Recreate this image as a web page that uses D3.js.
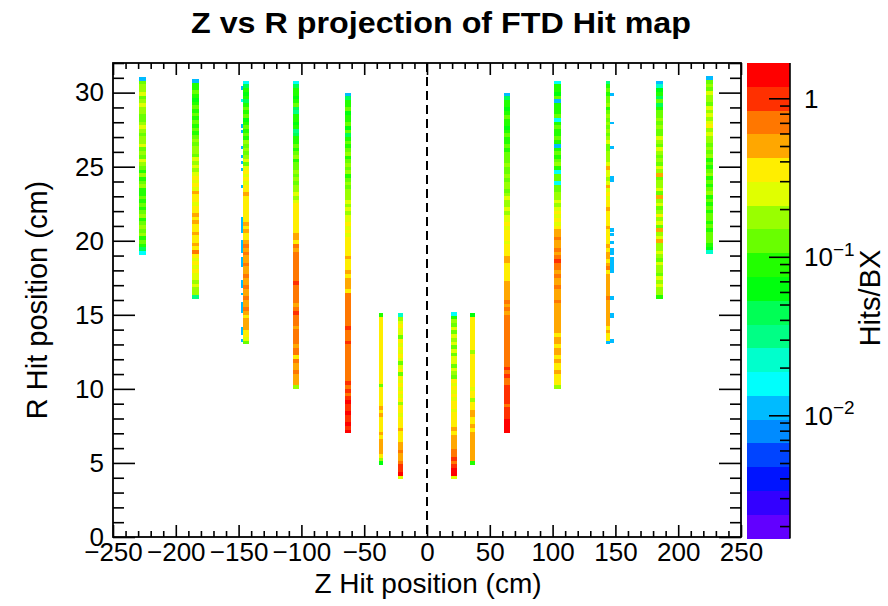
<!DOCTYPE html>
<html>
<head>
<meta charset="utf-8">
<script src="https://cdn.jsdelivr.net/npm/d3@7"></script>
<style>
  body { margin: 0; background: #fff; }
  svg { display: block; }
  text { font-family: "Liberation Sans", Arial, Helvetica, sans-serif; fill: #000; }
</style>
</head>
<body>
<svg id="chart" width="888" height="606"></svg>
<script>
// ---- FTD disk columns: z extent (cm) and radial coverage (cm) ----
const diskZLo = [-229.3, -187.3, -146.3, -106.9, -65.0, -38.0, -22.9, 18.9, 34.2, 61.5, 101.1, 142.5, 182.3, 222.1];
const diskZHi = [-223.4, -181.5, -142.0, -101.9, -60.7, -34.8, -19.3, 23.6, 38.5, 66.3, 106.4, 145.7, 188.1, 227.9];
const diskRMin = [19.05, 16.1, 13.0, 10.0, 7.0, 4.86, 3.9, 3.9, 4.86, 7.0, 10.0, 13.0, 16.1, 19.1];
const diskRMax = [31.05, 30.9, 30.8, 30.8, 30.0, 15.1, 15.1, 15.2, 15.1, 30.0, 30.8, 30.8, 30.8, 31.1];

// Hits/BX in equal radial rings, listed from the outer radius inward
const hitsZm225 = [0.012, 0.13, 0.2, 0.15, 0.22, 0.13, 0.19, 0.24, 0.16, 0.21, 0.14, 0.12, 0.18, 0.22, 0.15, 0.12, 0.2, 0.16, 0.24, 0.14, 0.19, 0.13, 0.22, 0.17, 0.12, 0.1, 0.15, 0.09, 0.12, 0.16, 0.1, 0.08, 0.13, 0.1, 0.14, 0.09, 0.11, 0.17, 0.1, 0.13, 0.2, 0.11, 0.15, 0.1, 0.12, 0.08, 0.04, 0.015];
const hitsZm185 = [0.012, 0.1, 0.08, 0.12, 0.09, 0.07, 0.1, 0.13, 0.08, 0.11, 0.09, 0.14, 0.1, 0.12, 0.08, 0.11, 0.15, 0.12, 0.16, 0.2, 0.14, 0.22, 0.18, 0.25, 0.2, 0.24, 0.3, 0.26, 0.32, 0.28, 0.45, 0.3, 0.33, 0.28, 0.36, 0.3, 0.48, 0.34, 0.5, 0.32, 0.38, 0.55, 0.36, 0.3, 0.52, 0.34, 0.6, 0.35, 0.28, 0.33, 0.25, 0.3, 0.22, 0.27, 0.2, 0.24, 0.18, 0.15, 0.03];
const hitsZm145 = [0.015, 0.05, 0.09, 0.06, 0.1, 0.04, 0.08, 0.11, 0.09, 0.12, 0.07, 0.1, 0.14, 0.09, 0.12, 0.1, 0.15, 0.11, 0.2, 0.13, 0.16, 0.22, 0.14, 0.25, 0.3, 0.26, 0.34, 0.28, 0.32, 0.36, 0.5, 0.33, 0.35, 0.3, 0.38, 0.32, 0.4, 0.34, 0.55, 0.36, 0.5, 0.4, 0.36, 0.55, 0.6, 0.52, 0.65, 0.5, 0.58, 0.62, 0.48, 0.55, 0.6, 0.52, 0.55, 0.6, 0.5, 0.58, 0.62, 0.55, 0.5, 0.6, 0.45, 0.4, 0.48, 0.52, 0.45, 0.35, 0.3, 0.25, 0.12];
const hitsZm105 = [0.015, 0.04, 0.08, 0.1, 0.06, 0.09, 0.12, 0.04, 0.03, 0.08, 0.1, 0.07, 0.09, 0.03, 0.05, 0.09, 0.1, 0.13, 0.09, 0.12, 0.16, 0.1, 0.14, 0.11, 0.15, 0.12, 0.18, 0.13, 0.2, 0.16, 0.22, 0.18, 0.25, 0.3, 0.35, 0.32, 0.38, 0.34, 0.4, 0.36, 0.33, 0.5, 0.55, 0.38, 0.6, 0.5, 0.65, 0.62, 0.7, 0.65, 0.72, 0.6, 0.68, 0.75, 0.85, 0.7, 0.65, 0.72, 0.6, 0.68, 0.55, 0.62, 0.9, 0.66, 0.7, 0.6, 0.58, 0.64, 0.7, 0.62, 0.6, 0.55, 0.65, 0.6, 0.35, 0.62, 0.58, 0.55, 0.6, 0.52, 0.5, 0.48, 0.2];
const hitsZm64 = [0.012, 0.05, 0.1, 0.08, 0.12, 0.06, 0.1, 0.09, 0.13, 0.07, 0.11, 0.04, 0.09, 0.12, 0.08, 0.12, 0.15, 0.1, 0.14, 0.18, 0.12, 0.16, 0.1, 0.13, 0.17, 0.12, 0.2, 0.15, 0.18, 0.22, 0.16, 0.24, 0.2, 0.28, 0.22, 0.3, 0.26, 0.33, 0.28, 0.35, 0.32, 0.38, 0.34, 0.36, 0.45, 0.33, 0.4, 0.38, 0.5, 0.36, 0.45, 0.5, 0.55, 0.4, 0.6, 0.65, 0.7, 0.62, 0.68, 0.72, 0.65, 0.75, 0.7, 0.88, 0.68, 0.72, 0.65, 0.9, 0.7, 0.74, 0.68, 0.72, 0.78, 0.7, 0.75, 0.8, 0.72, 0.78, 0.95, 0.78, 1.0, 0.8, 1.05, 1.2, 0.95, 1.1, 1.3, 1.0, 1.15, 1.25, 1.1, 1.2];
const hitsZm37 = [0.08, 0.3, 0.35, 0.32, 0.36, 0.3, 0.34, 0.38, 0.33, 0.3, 0.36, 0.34, 0.32, 0.37, 0.33, 0.35, 0.3, 0.34, 0.36, 0.12, 0.32, 0.35, 0.33, 0.36, 0.34, 0.5, 0.36, 0.55, 0.34, 0.38, 0.35, 0.4, 0.5, 0.38, 0.55, 0.45, 0.5, 0.42, 0.35, 0.2, 0.07];
const hitsZm22 = [0.025, 0.2, 0.26, 0.3, 0.24, 0.28, 0.12, 0.3, 0.25, 0.32, 0.27, 0.3, 0.24, 0.13, 0.28, 0.3, 0.14, 0.3, 0.27, 0.33, 0.25, 0.3, 0.28, 0.32, 0.15, 0.3, 0.33, 0.28, 0.35, 0.3, 0.34, 0.55, 0.36, 0.4, 0.38, 0.5, 0.42, 0.6, 0.55, 0.48, 0.75, 1.1, 0.9, 1.2, 0.25];
const hitsZp22 = [0.016, 0.1, 0.2, 0.14, 0.25, 0.12, 0.22, 0.15, 0.24, 0.11, 0.26, 0.13, 0.28, 0.22, 0.12, 0.26, 0.2, 0.14, 0.3, 0.24, 0.3, 0.26, 0.32, 0.28, 0.34, 0.3, 0.25, 0.33, 0.3, 0.35, 0.32, 0.45, 0.38, 0.5, 0.42, 0.55, 0.45, 0.6, 0.7, 0.9, 0.75, 1.0, 1.25, 1.2, 0.25];
const hitsZp37 = [0.07, 0.32, 0.35, 0.3, 0.34, 0.36, 0.31, 0.33, 0.37, 0.3, 0.2, 0.34, 0.32, 0.36, 0.33, 0.35, 0.3, 0.34, 0.36, 0.32, 0.22, 0.35, 0.33, 0.2, 0.36, 0.34, 0.5, 0.45, 0.38, 0.36, 0.55, 0.4, 0.5, 0.52, 0.48, 0.55, 0.5, 0.45, 0.52, 0.46, 0.08];
const hitsZp64 = [0.012, 0.04, 0.08, 0.1, 0.07, 0.09, 0.12, 0.08, 0.1, 0.06, 0.09, 0.11, 0.08, 0.1, 0.13, 0.09, 0.11, 0.14, 0.12, 0.16, 0.11, 0.14, 0.18, 0.12, 0.15, 0.2, 0.13, 0.17, 0.22, 0.16, 0.2, 0.25, 0.18, 0.28, 0.22, 0.3, 0.24, 0.32, 0.3, 0.34, 0.28, 0.36, 0.32, 0.35, 0.5, 0.55, 0.38, 0.34, 0.36, 0.4, 0.38, 0.42, 0.48, 0.45, 0.5, 0.55, 0.6, 0.52, 0.65, 0.58, 0.62, 0.7, 0.6, 0.66, 0.72, 0.6, 0.68, 0.64, 0.7, 0.62, 0.75, 0.66, 0.7, 0.72, 0.9, 0.75, 0.95, 0.7, 0.74, 0.9, 1.0, 0.85, 0.95, 1.05, 0.8, 0.9, 0.85, 1.0, 1.2, 1.3, 1.25, 1.4];
const hitsZp105 = [0.014, 0.08, 0.1, 0.07, 0.11, 0.013, 0.09, 0.1, 0.08, 0.12, 0.015, 0.09, 0.11, 0.08, 0.1, 0.12, 0.09, 0.013, 0.1, 0.13, 0.09, 0.12, 0.15, 0.1, 0.015, 0.13, 0.11, 0.014, 0.14, 0.12, 0.16, 0.2, 0.25, 0.18, 0.28, 0.3, 0.24, 0.33, 0.28, 0.35, 0.5, 0.55, 0.6, 0.52, 0.58, 0.62, 0.55, 0.7, 0.9, 0.65, 0.6, 0.55, 0.62, 0.58, 0.55, 0.6, 0.5, 0.58, 0.52, 0.62, 0.55, 0.48, 0.5, 0.56, 0.45, 0.52, 0.48, 0.55, 0.4, 0.5, 0.45, 0.38, 0.48, 0.42, 0.36, 0.45, 0.4, 0.35, 0.42, 0.38, 0.34, 0.36, 0.2];
const hitsZp145 = [0.03, 0.1, 0.12, 0.09, 0.14, 0.11, 0.16, 0.1, 0.13, 0.2, 0.12, 0.15, 0.11, 0.18, 0.13, 0.16, 0.22, 0.14, 0.12, 0.17, 0.2, 0.16, 0.24, 0.5, 0.22, 0.26, 0.2, 0.28, 0.55, 0.25, 0.3, 0.27, 0.32, 0.35, 0.55, 0.3, 0.34, 0.38, 0.32, 0.5, 0.36, 0.33, 0.4, 0.35, 0.55, 0.38, 0.42, 0.5, 0.36, 0.45, 0.6, 0.4, 0.48, 0.55, 0.5, 0.45, 0.55, 0.5, 0.6, 0.48, 0.52, 0.45, 0.5, 0.42, 0.55, 0.48, 0.4, 0.45, 0.38, 0.3, 0.012];
const hitsZp185 = [0.012, 0.02, 0.06, 0.1, 0.05, 0.12, 0.04, 0.09, 0.11, 0.13, 0.18, 0.11, 0.2, 0.14, 0.12, 0.22, 0.16, 0.13, 0.24, 0.15, 0.12, 0.2, 0.14, 0.25, 0.17, 0.5, 0.13, 0.2, 0.15, 0.22, 0.12, 0.55, 0.18, 0.25, 0.14, 0.2, 0.3, 0.16, 0.22, 0.14, 0.5, 0.18, 0.26, 0.55, 0.15, 0.21, 0.28, 0.17, 0.13, 0.24, 0.16, 0.2, 0.14, 0.22, 0.18, 0.25, 0.2, 0.16, 0.1];
const hitsZp225 = [0.012, 0.12, 0.18, 0.14, 0.22, 0.16, 0.2, 0.13, 0.24, 0.18, 0.26, 0.15, 0.22, 0.3, 0.19, 0.24, 0.16, 0.21, 0.14, 0.2, 0.13, 0.17, 0.1, 0.14, 0.09, 0.12, 0.16, 0.1, 0.13, 0.08, 0.11, 0.15, 0.09, 0.12, 0.1, 0.14, 0.08, 0.11, 0.13, 0.09, 0.12, 0.1, 0.14, 0.11, 0.13, 0.09, 0.06, 0.02];
const diskHits = [hitsZm225, hitsZm185, hitsZm145, hitsZm105, hitsZm64, hitsZm37, hitsZm22,
                  hitsZp22, hitsZp37, hitsZp64, hitsZp105, hitsZp145, hitsZp185, hitsZp225];

// Sparse hits in the z bins next to the ±145 cm disks: [zLo, zHi, rLo, rHi, hits/BX]
const edgeHits = [
  [-148.3, -146.3, 30.2, 30.45, 0.012], [-148.3, -146.3, 29.4, 29.6, 0.014],
  [-148.3, -146.3, 27.6, 27.9, 0.013], [-148.3, -146.3, 27.3, 27.5, 0.012],
  [-148.3, -146.3, 26.2, 26.4, 0.012], [-148.3, -146.3, 25.6, 25.8, 0.013],
  [-148.3, -146.3, 25.2, 25.4, 0.012], [-148.3, -146.3, 24.7, 24.9, 0.011],
  [-148.3, -146.3, 23.55, 23.75, 0.012], [-148.3, -146.3, 20.5, 21.6, 0.011],
  [-148.3, -146.3, 19.15, 20.05, 0.012], [-148.3, -146.3, 18.25, 18.9, 0.011],
  [-148.3, -146.3, 16.8, 17.35, 0.013], [-148.3, -146.3, 16.35, 16.5, 0.012],
  [-148.3, -146.3, 15.1, 15.85, 0.012], [-148.3, -146.3, 13.65, 14.2, 0.011],
  [-148.3, -146.3, 13.15, 13.4, 0.012],
  [145.7, 148.9, 29.8, 30.0, 0.011], [145.7, 148.9, 27.85, 28.05, 0.012],
  [145.7, 148.9, 26.2, 26.4, 0.011], [145.7, 148.9, 23.95, 24.35, 0.012],
  [145.7, 148.9, 20.6, 20.85, 0.012], [145.7, 148.9, 20.3, 20.5, 0.011],
  [145.7, 148.9, 19.8, 19.95, 0.012], [145.7, 148.9, 19.05, 19.5, 0.011],
  [145.7, 148.9, 17.8, 18.9, 0.012], [145.7, 148.9, 16.0, 16.3, 0.012],
  [145.7, 148.9, 14.8, 15.1, 0.011], [145.7, 148.9, 13.1, 13.4, 0.012]
];

// ---- axes ----
const zDomain = [-250, 250];
const rDomain = [0, 32];
const zTicks = [-250, -200, -150, -100, -50, 0, 50, 100, 150, 200, 250];
const rTicks = [0, 5, 10, 15, 20, 25, 30];
const hitsDomain = [0.00167, 1.67];
const hitsTicks = [1, 0.1, 0.01];

// 20-level violet-to-red palette, lowest level first
const palette = ["#6200ff", "#3300ff", "#0014ff", "#0044ff", "#008bff", "#00bbff", "#00fffc", "#00ffcc",
                 "#00ff85", "#00ff55", "#00ff0e", "#22ff00", "#69ff00", "#99ff00", "#e0ff00", "#ffee00",
                 "#ffa700", "#ff7700", "#ff3000", "#ff0000"];

const svg = d3.select("#chart");
const frame = { left: 113, right: 741, top: 63, bottom: 537 };
const bar = { left: 747, right: 790, top: 63, bottom: 538.5 };

const x = d3.scaleLinear().domain(zDomain).range([frame.left, frame.right]);
const y = d3.scaleLinear().domain(rDomain).range([frame.bottom, frame.top]);
const zc = d3.scaleLog().domain(hitsDomain).range([bar.bottom, bar.top]);
const level = d3.scaleLog().domain(hitsDomain).range([0, palette.length]);
const colorOf = v => palette[Math.max(0, Math.min(palette.length - 1, Math.floor(level(v))))];

// ---- hit cells ----
const cells = [];
diskHits.forEach((vals, i) => {
  const h = (diskRMax[i] - diskRMin[i]) / vals.length;
  vals.forEach((v, j) => {
    cells.push({ z0: diskZLo[i], z1: diskZHi[i], r1: diskRMax[i] - j * h, r0: diskRMax[i] - (j + 1) * h, v });
  });
});
edgeHits.forEach(([z0, z1, r0, r1, v]) => cells.push({ z0, z1, r0, r1, v }));

svg.append("g").attr("shape-rendering", "crispEdges")
  .selectAll("rect").data(cells).join("rect")
  .attr("x", d => x(d.z0))
  .attr("width", d => x(d.z1) - x(d.z0))
  .attr("y", d => y(d.r1))
  .attr("height", d => y(d.r0) - y(d.r1))
  .attr("fill", d => colorOf(d.v));

// dashed line at z = 0
svg.append("line")
  .attr("x1", x(0)).attr("x2", x(0))
  .attr("y1", frame.top).attr("y2", frame.bottom)
  .attr("stroke", "#000").attr("stroke-width", 2).attr("stroke-dasharray", "9,5");

// ---- frame and ticks ----
const zMinor = d3.range(-250, 251, 10).filter(v => v % 50 !== 0);
const rMinor = d3.range(0, 33, 1).filter(v => v % 5 !== 0);

function styleAxis(g) {
  g.select(".domain").remove();
  g.selectAll(".tick line").attr("stroke", "#000").attr("stroke-width", 1.6);
  g.selectAll("text").attr("font-size", 26).attr("fill", "#000");
}

svg.append("g").attr("transform", `translate(0,${frame.bottom})`)
  .call(d3.axisBottom(x).tickValues(zTicks).tickSize(-12).tickPadding(6).tickFormat(d3.format("d")))
  .call(styleAxis).attr("font-family", null);
svg.append("g").attr("transform", `translate(0,${frame.bottom})`)
  .call(d3.axisBottom(x).tickValues(zMinor).tickSize(-6).tickFormat(""))
  .call(styleAxis);
svg.append("g").attr("transform", `translate(0,${frame.top})`)
  .call(d3.axisTop(x).tickValues(zTicks).tickSize(-12).tickFormat(""))
  .call(styleAxis);
svg.append("g").attr("transform", `translate(0,${frame.top})`)
  .call(d3.axisTop(x).tickValues(zMinor).tickSize(-6).tickFormat(""))
  .call(styleAxis);

svg.append("g").attr("transform", `translate(${frame.left},0)`)
  .call(d3.axisLeft(y).tickValues(rTicks).tickSize(-22).tickPadding(9).tickFormat(d3.format("d")))
  .call(styleAxis).attr("font-family", null);
svg.append("g").attr("transform", `translate(${frame.left},0)`)
  .call(d3.axisLeft(y).tickValues(rMinor).tickSize(-11).tickFormat(""))
  .call(styleAxis);
svg.append("g").attr("transform", `translate(${frame.right},0)`)
  .call(d3.axisRight(y).tickValues(rTicks).tickSize(-22).tickFormat(""))
  .call(styleAxis);
svg.append("g").attr("transform", `translate(${frame.right},0)`)
  .call(d3.axisRight(y).tickValues(rMinor).tickSize(-11).tickFormat(""))
  .call(styleAxis);

svg.append("rect")
  .attr("x", frame.left).attr("y", frame.top)
  .attr("width", frame.right - frame.left).attr("height", frame.bottom - frame.top)
  .attr("fill", "none").attr("stroke", "#000").attr("stroke-width", 1.8);

// ---- colour bar ----
const bandEdges = d3.range(palette.length + 1).map(i => level.invert(i));
svg.append("g").attr("shape-rendering", "crispEdges")
  .selectAll("rect").data(palette).join("rect")
  .attr("x", bar.left).attr("width", bar.right - bar.left)
  .attr("y", (c, i) => zc(bandEdges[i + 1]))
  .attr("height", (c, i) => zc(bandEdges[i]) - zc(bandEdges[i + 1]))
  .attr("fill", c => c);

const hitsMinor = [];
[0.001, 0.01, 0.1, 1].forEach(dec => d3.range(2, 10).forEach(m => {
  const v = dec * m;
  if (v > hitsDomain[0] && v < hitsDomain[1]) hitsMinor.push(v);
}));
svg.append("g").attr("transform", `translate(${bar.right},0)`)
  .call(d3.axisRight(zc).tickValues(hitsTicks).tickSize(-21).tickFormat(""))
  .call(styleAxis);
svg.append("g").attr("transform", `translate(${bar.right},0)`)
  .call(d3.axisRight(zc).tickValues(hitsMinor).tickSize(-10).tickFormat(""))
  .call(styleAxis);
svg.append("line")
  .attr("x1", bar.right).attr("x2", bar.right).attr("y1", bar.top).attr("y2", bar.bottom)
  .attr("stroke", "#000").attr("stroke-width", 1.6);

const barLabels = svg.append("g").attr("font-size", 26);
hitsTicks.forEach(v => {
  const e = Math.round(Math.log10(v));
  const t = barLabels.append("text").attr("x", 804).attr("y", zc(v)).attr("dy", "0.36em");
  if (e === 0) {
    t.text("1");
  } else {
    t.append("tspan").text("10");
    t.append("tspan").attr("font-size", 19).attr("dy", "-0.55em").text("\u2212" + (-e));
  }
});

// ---- titles ----
svg.append("text")
  .attr("x", 441).attr("y", 33).attr("text-anchor", "middle")
  .attr("font-size", 30).attr("font-weight", "bold")
  .attr("textLength", 500).attr("lengthAdjust", "spacingAndGlyphs")
  .text("Z vs R projection of FTD Hit map");

svg.append("text")
  .attr("x", 428).attr("y", 593).attr("text-anchor", "middle")
  .attr("font-size", 28)
  .text("Z Hit position (cm)");

svg.append("text")
  .attr("transform", `translate(47,${(frame.top + frame.bottom) / 2}) rotate(-90)`)
  .attr("text-anchor", "middle")
  .attr("font-size", 29)
  .text("R Hit position (cm)");

svg.append("text")
  .attr("transform", `translate(880,298) rotate(-90)`)
  .attr("text-anchor", "middle")
  .attr("font-size", 29)
  .text("Hits/BX");
</script>
</body>
</html>
